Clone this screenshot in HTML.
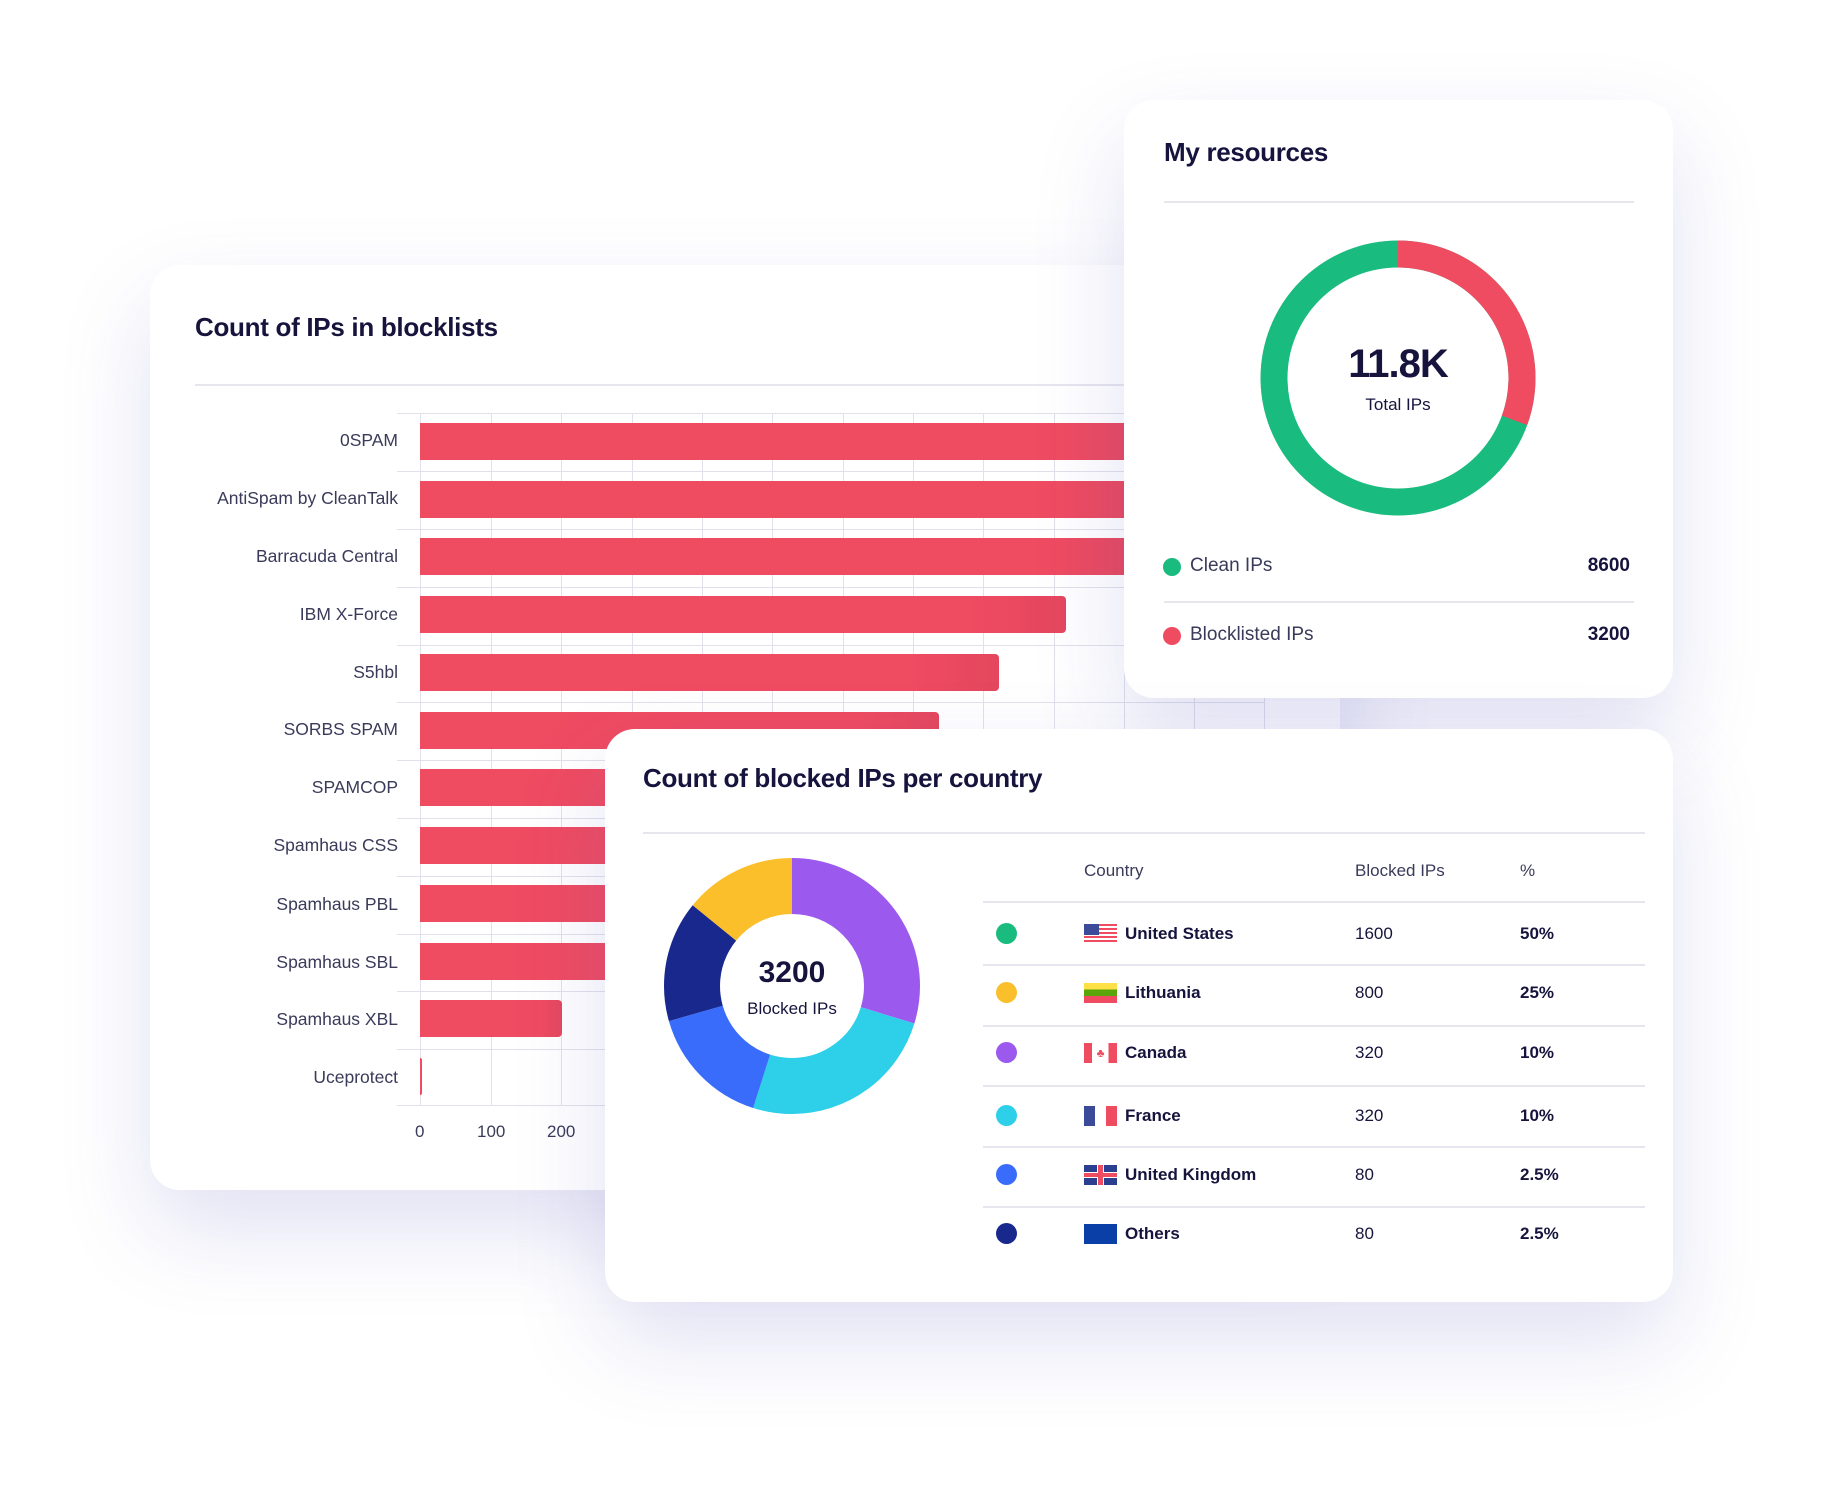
<!DOCTYPE html>
<html><head><meta charset="utf-8"><style>
*{margin:0;padding:0;box-sizing:border-box}
body{width:1824px;height:1503px;background:#fff;position:relative;overflow:hidden;font-family:"Liberation Sans",sans-serif;color:#16143d}
.card{position:absolute;background:#fff;border-radius:30px;box-shadow:0 40px 90px rgba(90,90,190,0.18)}
.abs{position:absolute}
.t{font-weight:bold;font-size:26px;letter-spacing:-0.3px}
.lbl{position:absolute;right:0;width:220px;text-align:right;font-size:17.5px;color:#3a3a5a}
.bar{position:absolute;left:420px;height:37px;background:linear-gradient(90deg,#ef4b61,#ef4b61 85%,#e4475e);border-radius:0 4px 4px 0}
.vl{position:absolute;top:413px;width:1px;height:692px;background:#e1e1ec}
.hl{position:absolute;left:397px;height:1px;background:#e1e1ec}
.row{position:absolute;font-size:17px;font-weight:bold}
.dot{position:absolute;width:21px;height:21px;border-radius:50%}
.sep{position:absolute;left:983px;width:662px;height:2px;background:#e6e6ef}
</style></head><body>

<!-- left card -->
<div class="card" style="left:150px;top:265px;width:1190px;height:925px"></div>
<div class="abs t" style="left:195px;top:312px">Count of IPs in blocklists</div>
<div class="abs" style="left:195px;top:384px;width:960px;height:2px;background:#e6e6ef"></div>
<div id="grid"></div>
<div class="vl" style="left:420px"></div><div class="vl" style="left:491px"></div><div class="vl" style="left:561px"></div><div class="vl" style="left:632px"></div><div class="vl" style="left:702px"></div><div class="vl" style="left:772px"></div><div class="vl" style="left:843px"></div><div class="vl" style="left:913px"></div><div class="vl" style="left:983px"></div><div class="vl" style="left:1054px"></div><div class="vl" style="left:1124px"></div><div class="vl" style="left:1194px"></div><div class="vl" style="left:1264px"></div>
<div class="hl" style="top:413px;width:868px"></div>
<div class="hl" style="top:471px;width:868px"></div>
<div class="hl" style="top:529px;width:868px"></div>
<div class="hl" style="top:587px;width:868px"></div>
<div class="hl" style="top:645px;width:868px"></div>
<div class="hl" style="top:702px;width:868px"></div>
<div class="hl" style="top:760px;width:868px"></div>
<div class="hl" style="top:818px;width:868px"></div>
<div class="hl" style="top:876px;width:868px"></div>
<div class="hl" style="top:934px;width:868px"></div>
<div class="hl" style="top:991px;width:868px"></div>
<div class="hl" style="top:1049px;width:868px"></div>
<div class="hl" style="top:1105px;width:868px"></div>

<div class="bar" style="top:423px;width:760px"></div>
<div class="bar" style="top:481px;width:750px"></div>
<div class="bar" style="top:538px;width:740px"></div>
<div class="bar" style="top:596px;width:646px"></div>
<div class="bar" style="top:654px;width:579px"></div>
<div class="bar" style="top:712px;width:519px"></div>
<div class="bar" style="top:769px;width:400px"></div>
<div class="bar" style="top:827px;width:380px"></div>
<div class="bar" style="top:885px;width:360px"></div>
<div class="bar" style="top:943px;width:340px"></div>
<div class="bar" style="top:1000px;width:142px"></div>
<div class="bar" style="top:1058px;width:2px"></div>

<div style="position:absolute;left:178px;top:0;width:220px;height:1200px">
<div class="lbl" style="top:430px">0SPAM</div>
<div class="lbl" style="top:488px;width:240px">AntiSpam by CleanTalk</div>
<div class="lbl" style="top:546px">Barracuda Central</div>
<div class="lbl" style="top:604px">IBM X-Force</div>
<div class="lbl" style="top:662px">S5hbl</div>
<div class="lbl" style="top:719px">SORBS SPAM</div>
<div class="lbl" style="top:777px">SPAMCOP</div>
<div class="lbl" style="top:835px">Spamhaus CSS</div>
<div class="lbl" style="top:894px">Spamhaus PBL</div>
<div class="lbl" style="top:952px">Spamhaus SBL</div>
<div class="lbl" style="top:1009px">Spamhaus XBL</div>
<div class="lbl" style="top:1067px">Uceprotect</div>
</div>
<div class="abs" style="left:415px;top:1122px;font-size:17px;color:#3a3a5a">0</div>
<div class="abs" style="left:477px;top:1122px;font-size:17px;color:#3a3a5a">100</div>
<div class="abs" style="left:547px;top:1122px;font-size:17px;color:#3a3a5a">200</div>

<!-- resources card -->
<div class="card" style="left:1124px;top:100px;width:549px;height:598px"></div>
<div class="abs t" style="left:1164px;top:137px">My resources</div>
<div class="abs" style="left:1164px;top:201px;width:470px;height:2px;background:#e6e6ef"></div>
<svg class="abs" style="left:1248px;top:228px" width="300" height="300" viewBox="0 0 300 300">
<g transform="rotate(-90 150 150)">
<circle cx="150" cy="150" r="124" fill="none" stroke="#1abb7f" stroke-width="27"/>
<circle cx="150" cy="150" r="124" fill="none" stroke="#ef4b61" stroke-width="27" stroke-dasharray="238 1000"/>
</g></svg>
<div class="abs" style="left:1298px;top:342px;width:200px;text-align:center;font-size:40px;font-weight:bold;letter-spacing:-1px">11.8K</div>
<div class="abs" style="left:1298px;top:395px;width:200px;text-align:center;font-size:17px">Total IPs</div>
<div class="dot" style="left:1163px;top:558px;width:18px;height:18px;background:#1abb7f"></div>
<div class="abs" style="left:1190px;top:555px;font-size:19px;color:#3a3a5a">Clean IPs</div>
<div class="abs" style="left:1530px;top:555px;width:100px;text-align:right;font-size:19px;font-weight:bold">8600</div>
<div class="abs" style="left:1164px;top:601px;width:470px;height:2px;background:#e6e6ef"></div>
<div class="dot" style="left:1163px;top:627px;width:18px;height:18px;background:#ef4b61"></div>
<div class="abs" style="left:1190px;top:624px;font-size:19px;color:#3a3a5a">Blocklisted IPs</div>
<div class="abs" style="left:1530px;top:624px;width:100px;text-align:right;font-size:19px;font-weight:bold">3200</div>

<!-- country card -->
<div class="card" style="left:605px;top:729px;width:1068px;height:573px"></div>
<div class="abs t" style="left:643px;top:763px">Count of blocked IPs per country</div>
<div class="abs" style="left:643px;top:832px;width:1002px;height:2px;background:#e6e6ef"></div>
<svg class="abs" style="left:662px;top:856px" width="260" height="260" viewBox="0 0 260 260">
<g transform="rotate(-90 130 130)" fill="none" stroke-width="56">
<circle cx="130" cy="130" r="100" stroke="#9b59ee" stroke-dasharray="186.8 1000"/>
<circle cx="130" cy="130" r="100" stroke="#2dcfe9" stroke-dasharray="158.1 1000" stroke-dashoffset="-186.8"/>
<circle cx="130" cy="130" r="100" stroke="#3a6cfb" stroke-dasharray="98.4 1000" stroke-dashoffset="-344.9"/>
<circle cx="130" cy="130" r="100" stroke="#18288c" stroke-dasharray="96 1000" stroke-dashoffset="-443.3"/>
<circle cx="130" cy="130" r="100" stroke="#fbbf2c" stroke-dasharray="89.2 1000" stroke-dashoffset="-539.3"/>
</g></svg>
<div class="abs" style="left:692px;top:956px;width:200px;text-align:center;font-size:30px;font-weight:bold">3200</div>
<div class="abs" style="left:692px;top:999px;width:200px;text-align:center;font-size:17px">Blocked IPs</div>

<div class="abs" style="left:1084px;top:861px;font-size:17px;color:#3a3a5a">Country</div>
<div class="abs" style="left:1355px;top:861px;font-size:17px;color:#3a3a5a">Blocked IPs</div>
<div class="abs" style="left:1520px;top:861px;font-size:17px;color:#3a3a5a">%</div>
<div class="sep" style="top:901px"></div>
<div class="sep" style="top:964px"></div>
<div class="sep" style="top:1025px"></div>
<div class="sep" style="top:1085px"></div>
<div class="sep" style="top:1146px"></div>
<div class="sep" style="top:1206px"></div>

<div class="dot" style="left:996px;top:923px;background:#1abb7f"></div>
<div class="dot" style="left:996px;top:982px;background:#fbbf2c"></div>
<div class="dot" style="left:996px;top:1042px;background:#9b59ee"></div>
<div class="dot" style="left:996px;top:1105px;background:#2dcfe9"></div>
<div class="dot" style="left:996px;top:1164px;background:#3a6cfb"></div>
<div class="dot" style="left:996px;top:1223px;background:#18288c"></div>

<!-- flags -->
<div class="abs" style="left:1084px;top:924px;width:33px;height:20px;background:repeating-linear-gradient(#ef4b61 0 2px,#fff 2px 4px)"><div style="width:15px;height:11px;background:#3c4a9a"></div></div>
<div class="abs" style="left:1084px;top:983px;width:33px;height:20px;background:linear-gradient(#fde047 0 33%,#5aa60a 33% 66%,#ef4b61 66%)"></div>
<div class="abs" style="left:1084px;top:1043px;width:33px;height:20px;background:linear-gradient(90deg,#ef4b61 0 25%,#fff 25% 75%,#ef4b61 75%);color:#ef4b61;font-size:12px;text-align:center;line-height:20px">♣</div>
<div class="abs" style="left:1084px;top:1106px;width:33px;height:20px;background:linear-gradient(90deg,#3c4a9a 0 33%,#fff 33% 66%,#ef4b61 66%)"></div>
<div class="abs" style="left:1084px;top:1165px;width:33px;height:20px;background:#2a3f8f;overflow:hidden"><div style="position:absolute;left:0;top:7px;width:33px;height:6px;background:#fff"></div><div style="position:absolute;left:13px;top:0;width:7px;height:20px;background:#fff"></div><div style="position:absolute;left:0;top:8px;width:33px;height:4px;background:#ef4b61"></div><div style="position:absolute;left:14px;top:0;width:5px;height:20px;background:#ef4b61"></div></div>
<div class="abs" style="left:1084px;top:1224px;width:33px;height:20px;background:#0a3fa8"></div>

<div class="row" style="left:1125px;top:924px">United States</div><div class="row" style="left:1355px;top:924px;font-weight:normal">1600</div><div class="row" style="left:1520px;top:924px">50%</div>
<div class="row" style="left:1125px;top:983px">Lithuania</div><div class="row" style="left:1355px;top:983px;font-weight:normal">800</div><div class="row" style="left:1520px;top:983px">25%</div>
<div class="row" style="left:1125px;top:1043px">Canada</div><div class="row" style="left:1355px;top:1043px;font-weight:normal">320</div><div class="row" style="left:1520px;top:1043px">10%</div>
<div class="row" style="left:1125px;top:1106px">France</div><div class="row" style="left:1355px;top:1106px;font-weight:normal">320</div><div class="row" style="left:1520px;top:1106px">10%</div>
<div class="row" style="left:1125px;top:1165px">United Kingdom</div><div class="row" style="left:1355px;top:1165px;font-weight:normal">80</div><div class="row" style="left:1520px;top:1165px">2.5%</div>
<div class="row" style="left:1125px;top:1224px">Others</div><div class="row" style="left:1355px;top:1224px;font-weight:normal">80</div><div class="row" style="left:1520px;top:1224px">2.5%</div>
</body></html>
